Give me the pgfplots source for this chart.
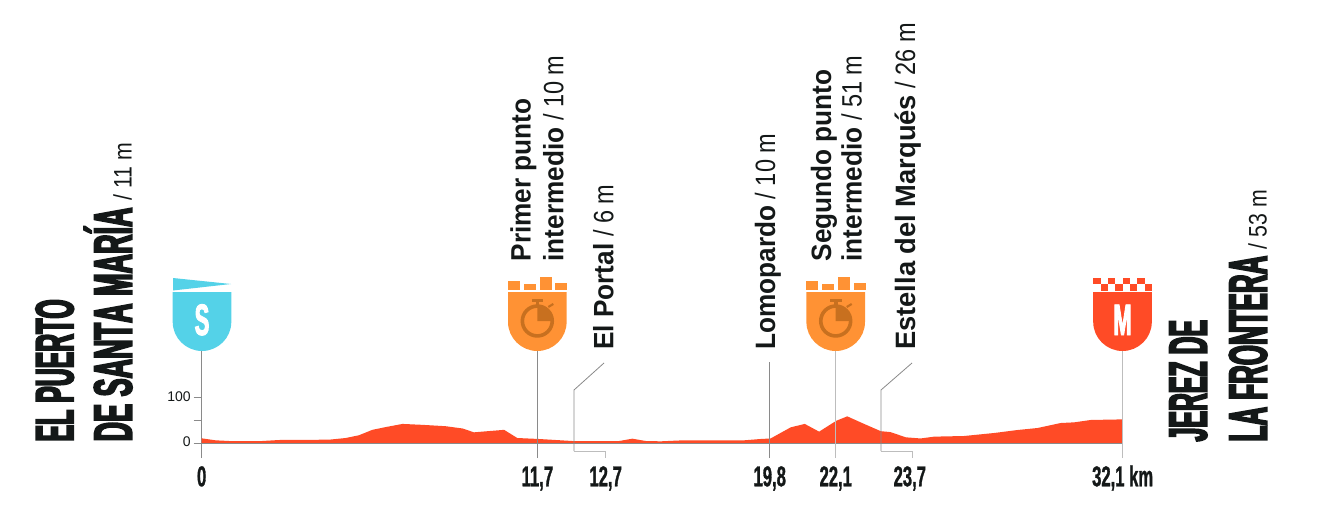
\documentclass[border=0pt]{standalone}
\usepackage{pgfplots}
\pgfplotsset{compat=1.18}
\usepackage{fontspec}
\setmainfont{Liberation Sans}
\definecolor{ink}{HTML}{141818}
\definecolor{prof}{HTML}{FF4B26}
\definecolor{orangeb}{HTML}{FF9234}
\definecolor{oranged}{HTML}{C8701F}
\definecolor{blueb}{HTML}{54D2E8}
\definecolor{linegray}{HTML}{8A8A8A}
\definecolor{lightgray2}{HTML}{BDBDBD}
\newfontfamily\bigf[FakeStretch=0.46,FakeBold=3,Kerning=Off]{Liberation Sans Bold}
\newfontfamily\bigfS[FakeStretch=0.50,FakeBold=3,Kerning=Off]{Liberation Sans Bold}
\newfontfamily\bigfL[FakeStretch=0.48,FakeBold=3,Kerning=Off]{Liberation Sans Bold}
\newfontfamily\tickf[FakeStretch=0.58,FakeBold=1]{Liberation Sans Bold}
\newfontfamily\badgef[FakeStretch=0.5,FakeBold=2]{Liberation Sans Bold}
\newfontfamily\boldf[FakeStretch=0.935]{Liberation Sans Bold}
\newfontfamily\boldfE[FakeStretch=0.975]{Liberation Sans Bold}
\newfontfamily\regf[FakeStretch=0.84]{Liberation Sans}
\newfontfamily\regb[FakeStretch=0.84]{Liberation Sans}
\newcommand\BIG{\bigf\fontsize{40.5}{40.5}\selectfont}
\newcommand\BIGS{\bigfS\fontsize{40.5}{40.5}\selectfont}
\newcommand\BIGL{\bigfL\fontsize{40.5}{40.5}\selectfont}
\newcommand\BIGr{\regb\fontsize{19}{19}\selectfont}
\newcommand\LB{\boldf\fontsize{21}{21}\selectfont}
\newcommand\LE{\boldfE\fontsize{21}{21}\selectfont}
\newcommand\LR{\regf\fontsize{21}{21}\selectfont}
\newcommand\rlabel[3]{\node[rotate=90,anchor=base west,inner sep=0pt,text=ink] at (#1,#2) {#3};}
\newcommand\shield[2]{% centre x, colour
  \fill[#2] (#1-29.3,292) -- (#1+29.3,292) -- (#1+29.3,322)
    .. controls (#1+29.3,338) and (#1+16,351) .. (#1,351)
    .. controls (#1-16,351) and (#1-29.3,338) .. (#1-29.3,322) -- cycle;}
\newcommand\watch[1]{% centre x
  \shield{#1}{orangeb}
  \fill[orangeb] (#1-29.3,280.7) rectangle (#1-17.3,290);
  \fill[orangeb] (#1-13.3,284.3) rectangle (#1-1.7,290);
  \fill[orangeb] (#1+2.3,277) rectangle (#1+14.3,290);
  \fill[orangeb] (#1+18,282.7) rectangle (#1+30,290);
  \draw[oranged,line width=2.7pt] (#1,321) circle[radius=11.2pt];
  \fill[oranged] (#1,321) -- (#1,305) .. controls (#1+7,305) and (#1+13,309) .. (#1+16,321) -- cycle;
  \fill[oranged] (#1-5.6,299) rectangle (#1+6,302.4);
  \fill[oranged] (#1-1.8,302) rectangle (#1+2,306);
  \draw[oranged,line width=1.6pt] (#1+11,307) -- (#1+16,304);
}
\begin{document}
\begin{tikzpicture}[x=0.75pt,y=-0.75pt]
\useasboundingbox (0,0) rectangle (1320,524);
\begin{axis}[
  at={(151.25pt,-343.5pt)},anchor=south west,
  scale only axis,width=690.75pt,height=80.25pt,
  xmin=0,xmax=32.1,ymin=-33.04,ymax=202.6,
  clip=false,
  axis y line*=left,axis x line*=bottom,
  x axis line style={draw=none},
  y axis line style={draw=linegray,line width=0.75pt},
  xtick={0,11.7,14.08,19.8,22.1,24.68,32.1},
  xticklabels={0,{11,7},{12,7},{19,8},{22,1},{23,7},{32,1 km}},
  major tick length=6pt,
  xtick style={draw=none},
  y tick style={draw=linegray,line width=0.75pt},
  tick align=outside,
  ytick={0,50,100},
  yticklabels={0,,100},
  xticklabel style={anchor=base,yshift=-15.2pt,inner sep=0pt,text=ink,font=\tickf\fontsize{21.5}{21.5}\selectfont},
  yticklabel style={font=\fontsize{10.5}{10.5}\selectfont,text=ink,inner sep=0pt,xshift=-2pt,yshift=1pt},
]
\addplot[fill=prof,draw=none] coordinates {
 (0,0) (0,10.3) (0.49,5.9) (0.95,4.4) (2.11,4.4) (2.70,6.6) (4.44,7.3) (5.02,11) (5.48,17)
 (5.95,29) (6.41,35) (7.0,42) (7.69,40) (8.50,37) (9.09,32) (9.49,23.5) (10.54,29) (11.0,11)
 (11.76,8.8) (12.92,4.4) (14.55,4.4) (15.01,9.5) (15.48,4.4) (16.0,3.7) (16.81,6) (18.9,5.9)
 (19.48,8.8) (19.83,10) (20.53,34.5) (21.02,42) (21.52,25) (22.12,49) (22.5,58.7) (23.09,42)
 (23.67,26) (24.01,24) (24.54,12.5) (25.06,10) (25.53,14) (26.57,15.4) (27.62,22) (28.43,28.6)
 (29.13,33) (29.94,44) (30.41,45.5) (30.99,50.7) (32.1,52) (32.1,0)};
\addplot[linegray,line width=0.8pt] coordinates {(0,-1) (32.1,-1)};
\addplot[linegray,line width=0.75pt] coordinates {(11.7,-33.04) (11.7,202.6)};
\addplot[linegray,line width=0.75pt] coordinates {(19.8,-33.04) (19.8,178)};
\addplot[lightgray2,line width=0.9pt] coordinates {(22.1,-33.04) (22.1,202.6)};
\addplot[lightgray2,line width=0.9pt] coordinates {(32.1,-33.04) (32.1,202.6)};
\end{axis}
% leaders
\draw[linegray,line width=0.6pt] (604,363) -- (574,390) -- (574,451);
\draw[lightgray2,line width=0.7pt] (574,451) -- (605,451) -- (605,458);
\draw[linegray,line width=0.6pt] (912,363) -- (881,390) -- (881,451);
\draw[lightgray2,line width=0.7pt] (881,451) -- (912,451) -- (912,458);
% start shield
\shield{202}{blueb}
\fill[blueb] (173,278) -- (231,284) -- (173,290.5) -- cycle;
\node[text=white,inner sep=0pt,anchor=base] at (202,335) {\badgef\fontsize{33}{33}\selectfont S};
% intermediate shields
\watch{537.3}
\watch{835.7}
% finish shield
\shield{1122.5}{prof}
\foreach \i in {0,2,4,6} {\fill[prof] ({1093.2+7.33*\i},277.7) rectangle ({1093.2+7.33*\i+7.33},284.3);}
\foreach \i in {1,3,5,7} {\fill[prof] ({1093.2+7.33*\i},284.3) rectangle ({1093.2+7.33*\i+7.33},290.7);}
\node[text=white,inner sep=0pt,anchor=base] at (1122.5,335) {\badgef\fontsize{33}{33}\selectfont M};
% big labels
\rlabel{73.3}{441.7}{\BIG EL PUERTO}
\rlabel{131.7}{441.7}{{\BIGS DE SANTA MARÍA}\hspace{5pt}{\BIGr / 11 m}}
\rlabel{1206.7}{441.7}{\BIG JEREZ DE}
\rlabel{1266.7}{441.7}{{\BIGL LA FRONTERA}\hspace{5pt}{\BIGr / 53 m}}
% waypoint labels
\rlabel{530.7}{261.7}{\LB Primer punto}
\rlabel{563.3}{261.7}{{\LB intermedio}\hspace{5pt}{\LR / 10 m}}
\rlabel{613.3}{350}{{\LB El Portal}\hspace{5pt}{\LR / 6 m}}
\rlabel{775}{350}{{\LB Lomopardo}\hspace{5pt}{\LR / 10 m}}
\rlabel{831}{261.7}{\LB Segundo punto}
\rlabel{861.7}{261.7}{{\LB intermedio}\hspace{5pt}{\LR / 51 m}}
\rlabel{915}{350}{{\LE Estella del Marqués}\hspace{5pt}{\LR / 26 m}}
\end{tikzpicture}
\end{document}
